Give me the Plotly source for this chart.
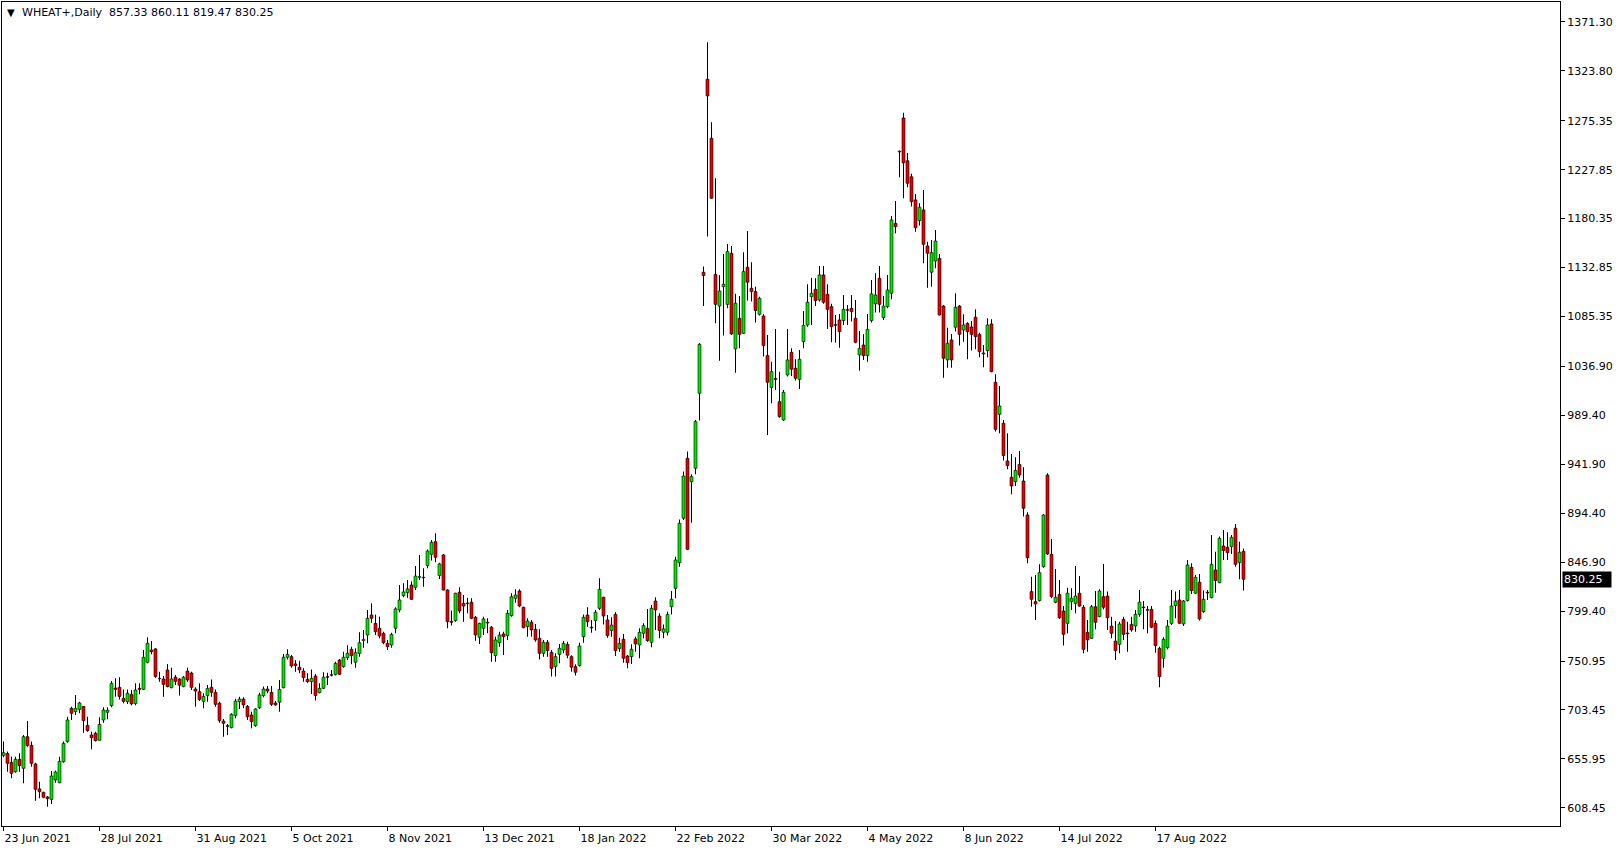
import plotly.graph_objects as go

symbol = "WHEAT+,Daily"
last_ohlc = ["857.33", "860.11", "819.47", "830.25"]

opens = [659.4,661.3,652.6,643.5,655.5,646.8,677.5,669.1,651.0,626.8,623.5,619.0,616.6,635.5,632.8,653.2,672.7,705.0,701.8,704.0,
706.9,688.5,679.1,680.8,674.0,693.7,701.2,707.6,724.7,725.4,714.7,711.5,718.6,709.6,724.4,723.4,749.7,761.6,762.7,734.1,
733.5,742.2,725.0,735.2,733.5,726.1,741.2,739.3,723.8,721.2,711.8,717.4,725.4,720.6,709.9,692.7,688.2,686.2,697.9,711.5,
714.1,706.9,698.5,688.2,705.6,717.4,723.8,720.6,710.2,710.9,725.0,754.6,755.2,748.1,744.9,741.2,733.1,730.9,736.4,720.2,
724.4,735.8,737.1,738.0,751.9,745.5,754.2,762.3,749.7,758.4,770.7,776.2,795.6,787.5,782.7,777.8,768.1,766.5,782.7,800.5,
814.4,817.3,824.7,822.5,832.2,832.2,843.6,854.5,866.8,833.8,853.9,819.9,789.4,790.2,817.7,806.9,807.2,808.0,793.4,774.0,
782.7,788.5,783.7,756.2,768.7,777.2,775.6,795.0,811.8,818.9,803.1,784.3,788.5,781.7,773.0,758.4,769.1,759.4,745.5,757.4,
761.6,767.1,755.2,745.5,746.5,774.6,795.6,783.7,790.2,802.1,812.8,790.8,780.5,796.2,763.0,772.0,755.8,755.2,772.4,766.5,
777.8,782.7,769.1,809.2,794.6,778.8,778.8,803.7,821.5,846.4,889.5,947.7,925.0,938.0,1010.8,1128.3,1315.7,1258.3,1126.2,1095.5,
1114.3,1097.1,1146.7,1053.9,1083.6,1069.0,1133.1,1112.7,1109.5,1087.4,1085.8,1047.4,1016.3,1025.1,1002.7,984.9,1028.6,1050.6,1035.1,1024.3,
1060.9,1077.1,1104.6,1111.7,1101.4,1125.7,1106.9,1094.9,1077.4,1082.0,1081.4,1092.0,1093.3,1083.6,1048.0,1057.7,1047.4,1081.4,1097.6,1122.4,
1084.2,1094.9,1107.9,1175.8,1245.0,1278.0,1236.5,1221.0,1198.5,1178.4,1188.8,1153.8,1128.3,1139.2,1141.8,1095.5,1043.2,1062.6,1074.9,1095.5,
1072.3,1078.7,1075.2,1084.6,1068.0,1049.9,1052.3,1078.1,1021.5,990.4,981.7,945.1,929.3,925.0,941.8,925.7,892.7,818.3,808.6,809.6,
842.5,931.5,854.5,808.0,815.6,799.5,787.5,808.6,806.9,816.7,803.1,778.8,773.0,803.7,794.0,813.4,814.0,784.9,770.3,767.1,
791.4,778.1,786.5,784.9,796.2,803.4,800.8,801.1,787.5,763.3,753.6,763.9,787.5,804.7,810.2,786.9,809.6,841.9,816.7,827.4,
798.9,817.7,812.4,839.3,827.0,862.6,861.3,862.0,879.8,846.4,857.33]

highs = [672.7,663.0,658.1,658.1,661.3,679.1,692.7,672.7,652.2,633.8,624.1,619.9,644.2,644.6,658.1,672.7,696.9,706.6,718.0,711.5,
707.2,696.9,682.4,682.4,696.3,706.0,706.0,731.5,734.1,735.2,723.4,723.4,722.8,729.3,729.3,761.6,774.0,770.3,763.3,740.6,
736.4,748.1,744.5,737.4,734.1,736.4,744.5,740.6,725.4,729.3,719.6,727.7,733.1,723.4,711.5,694.7,689.9,700.2,714.4,716.3,
715.7,708.3,701.8,705.0,720.2,726.1,726.7,726.7,712.1,732.5,757.8,762.3,756.8,751.9,751.3,743.9,739.0,742.8,738.4,729.3,
740.0,739.6,742.2,750.3,753.0,760.0,766.2,764.9,763.3,778.8,781.1,800.5,806.9,796.2,794.0,779.4,771.4,778.4,803.1,824.7,
826.4,829.6,828.0,843.1,853.9,840.9,859.3,868.4,874.9,846.4,854.9,820.5,799.9,817.3,822.5,815.0,812.4,811.8,794.6,788.1,
794.0,792.4,784.9,774.6,779.4,779.4,800.5,816.7,820.5,820.5,803.7,792.4,790.8,786.9,781.7,771.4,771.4,761.6,758.4,767.5,
770.3,769.7,756.5,747.7,768.7,796.2,803.1,790.8,800.5,831.2,813.4,795.6,793.4,798.2,773.6,777.2,756.8,767.1,774.6,782.7,
787.5,801.5,805.3,812.8,797.2,786.5,798.9,818.9,852.2,888.4,934.8,954.2,932.1,984.9,1059.5,1133.8,1351.6,1273.9,1219.5,1125.7,
1146.1,1155.8,1153.8,1107.3,1105.2,1147.7,1168.3,1138.0,1114.3,1104.6,1087.4,1067.4,1041.5,1073.3,1031.8,1014.0,1073.3,1054.5,1043.8,1052.9,
1090.7,1116.6,1123.0,1122.4,1134.4,1134.4,1116.6,1097.6,1086.8,1087.8,1106.2,1096.5,1106.2,1101.4,1071.3,1068.0,1087.8,1120.8,1127.3,1134.4,
1105.2,1125.7,1182.9,1197.5,1246.5,1283.0,1244.0,1224.0,1204.3,1195.2,1208.2,1158.0,1159.6,1169.3,1146.1,1096.5,1074.5,1068.4,1107.9,1096.5,
1087.4,1079.8,1081.0,1092.3,1069.6,1057.7,1083.6,1082.6,1029.2,1017.9,984.9,972.0,951.9,948.7,954.8,939.0,895.3,832.8,834.4,844.8,
893.3,933.1,869.4,840.3,829.6,804.3,822.1,821.5,843.1,833.4,805.3,790.8,805.3,818.9,820.5,845.2,818.3,794.0,789.8,789.1,
794.0,789.1,794.0,800.5,819.9,809.2,804.3,804.3,790.2,764.9,774.0,790.8,819.9,818.3,819.9,810.2,849.0,845.8,834.4,835.5,
819.3,819.9,873.3,857.1,871.7,878.1,875.9,873.3,884.0,866.8,860.11]

lows = [657.5,643.5,637.1,642.5,643.5,632.2,667.8,648.4,615.4,617.7,617.7,609.6,612.2,632.8,632.2,652.2,671.7,693.7,698.5,700.2,
681.4,682.4,665.2,672.7,673.7,691.1,694.3,706.0,716.3,713.7,709.9,709.3,708.0,708.0,718.6,722.8,748.7,757.4,734.8,730.9,
716.3,725.4,724.4,727.7,717.4,725.4,730.9,722.8,706.6,712.1,705.0,711.5,716.3,706.6,691.1,677.5,679.1,685.6,695.3,704.4,
705.0,693.7,685.6,687.2,704.4,715.7,719.6,707.2,707.6,701.8,724.4,752.5,744.5,740.6,739.0,730.9,729.9,719.0,712.5,719.6,
723.8,727.7,735.8,736.8,737.4,744.5,751.9,747.7,744.5,755.2,763.9,768.1,788.1,776.2,773.0,767.1,761.6,763.9,777.8,798.2,
812.8,812.4,810.2,819.9,829.6,823.1,840.9,848.4,846.8,830.6,819.3,782.7,785.3,789.1,797.2,789.1,797.2,791.4,770.7,767.5,
776.2,777.8,750.3,750.3,764.9,756.8,771.4,794.0,807.6,803.1,782.7,774.6,774.6,769.7,752.5,755.2,755.2,735.8,735.8,748.7,
758.4,753.6,740.6,736.8,745.5,768.7,784.3,778.4,780.5,800.5,786.5,773.6,774.6,755.8,760.0,749.3,743.8,748.1,760.0,753.6,
773.0,769.7,764.3,781.1,773.0,773.0,775.6,796.2,811.8,842.5,887.8,858.7,885.2,932.1,984.3,1095.5,1162.9,1199.6,1078.7,1042.5,
1066.8,1093.3,1067.4,1030.8,1054.5,1068.4,1100.8,1099.8,1079.4,1086.2,1046.4,970.3,1001.1,1014.0,987.1,983.9,1027.0,1027.6,1023.1,1015.0,
1054.5,1075.5,1077.1,1095.5,1099.8,1097.6,1073.3,1060.3,1059.9,1055.1,1077.1,1077.1,1080.4,1059.3,1032.8,1043.2,1041.5,1079.4,1089.1,1089.1,
1082.0,1093.3,1102.0,1166.1,1220.5,1200.1,1210.8,1192.0,1167.7,1173.6,1137.0,1113.3,1114.3,1132.1,1086.2,1026.0,1035.7,1035.7,1070.7,1057.1,
1060.9,1043.8,1052.3,1053.5,1045.8,1036.1,1045.8,1031.2,973.6,972.0,945.5,937.0,912.7,920.8,928.9,891.1,845.8,803.7,790.8,808.6,
841.5,853.9,811.8,806.9,791.8,765.9,777.8,800.5,797.2,803.7,758.4,760.0,772.4,781.7,793.4,801.1,781.1,773.0,751.9,758.4,
771.4,760.0,779.4,779.4,794.0,781.7,777.8,782.7,759.0,725.4,744.5,762.3,785.9,792.4,786.9,784.9,808.6,816.0,816.0,790.2,
797.8,810.2,811.8,817.3,826.4,849.0,849.0,854.9,842.5,830.2,819.47]

closes = [661.9,651.6,641.9,655.5,649.4,677.5,668.8,651.6,626.4,624.1,618.7,617.3,639.3,643.2,653.6,671.0,693.7,700.2,705.0,710.2,
693.1,683.4,676.5,673.7,689.4,703.4,703.1,729.3,723.4,716.6,711.8,719.6,709.3,722.8,723.4,754.6,768.1,760.0,735.8,733.8,
728.3,726.1,733.5,731.2,727.4,735.2,732.5,725.4,721.8,713.7,716.6,724.4,720.6,708.9,693.1,690.5,687.5,699.2,712.1,714.1,
708.3,696.9,692.1,704.4,718.0,723.8,721.8,708.9,708.3,723.4,754.6,757.4,746.1,746.5,742.2,734.8,730.9,734.1,717.4,724.4,
735.2,735.2,737.7,748.7,738.0,754.6,758.4,756.2,759.0,768.7,772.0,792.4,792.4,779.4,775.2,768.7,764.9,776.8,801.5,810.2,
818.0,820.9,810.8,833.4,832.8,831.8,857.7,866.2,851.6,845.2,819.9,789.1,788.5,816.7,799.5,804.3,806.6,792.4,776.2,787.5,
791.8,787.8,759.0,771.4,776.2,774.6,797.2,813.4,815.0,804.3,783.3,789.8,781.1,771.4,758.4,769.1,761.0,743.8,755.2,763.3,
768.1,756.5,744.9,740.0,765.5,793.4,789.1,783.0,798.2,820.5,794.6,775.6,785.9,761.0,768.1,753.6,749.3,762.3,767.5,778.8,
785.3,770.7,802.1,800.5,780.5,782.1,796.2,810.8,849.0,884.6,930.5,859.3,929.9,983.3,1058.3,1125.1,1299.4,1200.1,1097.1,1110.1,
1116.6,1148.3,1068.4,1098.2,1068.0,1128.9,1118.6,1109.5,1091.1,1103.0,1057.1,1021.5,1031.8,1024.3,988.1,1011.8,1043.2,1034.1,1025.4,1043.8,
1076.8,1099.2,1107.9,1100.8,1125.7,1099.2,1092.3,1075.5,1076.8,1070.7,1092.3,1091.4,1090.1,1060.3,1054.5,1047.4,1072.9,1107.3,1106.2,1097.1,
1095.5,1111.1,1179.1,1172.6,1245.8,1234.5,1214.6,1196.8,1171.5,1191.4,1155.4,1146.7,1147.3,1158.6,1086.8,1044.8,1059.3,1043.2,1094.3,1068.0,
1077.1,1070.7,1068.0,1065.8,1051.2,1049.0,1077.1,1031.8,975.8,998.5,950.3,940.6,920.8,935.8,931.5,899.2,851.2,810.8,806.3,836.7,
892.7,854.9,813.4,812.8,793.0,776.8,816.7,811.8,814.0,804.3,762.3,771.4,803.7,788.5,818.9,803.1,793.0,777.8,761.0,786.9,
776.8,777.5,781.1,796.2,808.0,802.7,800.2,783.7,765.9,735.8,772.0,784.9,804.3,809.2,787.5,809.2,844.2,819.3,832.2,791.8,
810.8,817.0,844.8,829.0,870.0,858.1,856.1,871.0,844.8,856.5,830.25]

date_labels = ["23 Jun 2021", "28 Jul 2021", "31 Aug 2021", "5 Oct 2021", "8 Nov 2021", "13 Dec 2021",
               "18 Jan 2022", "22 Feb 2022", "30 Mar 2022", "4 May 2022", "8 Jun 2022", "14 Jul 2022", "17 Aug 2022"]
date_bars = [0, 24, 48, 72, 96, 120, 144, 168, 192, 216, 240, 264, 288]

price_ticks = [1371.30, 1323.80, 1275.35, 1227.85, 1180.35, 1132.85, 1085.35, 1036.90, 989.40,
               941.90, 894.40, 846.90, 799.40, 750.95, 703.45, 655.95, 608.45]
price_tick_text = ["%.2f" % v for v in price_ticks]

bull_color = "#00e600"
bear_color = "#e60000"

bars = list(range(len(closes)))
wick_len = [h - l for h, l in zip(highs, lows)]
body_base = [min(o, c) for o, c in zip(opens, closes)]
body_len = [abs(c - o) for o, c in zip(opens, closes)]
body_col = [bull_color if c >= o else bear_color for o, c in zip(opens, closes)]

fig = go.Figure()
# wicks (high-low range), drawn first
fig.add_trace(go.Bar(
    x=bars, y=wick_len, base=lows, width=0.25,
    marker=dict(color="black", line=dict(width=0)),
    showlegend=False, hoverinfo="skip",
))
# candle bodies (open-close range)
fig.add_trace(go.Bar(
    x=bars, y=body_len, base=body_base, width=0.75,
    marker=dict(color=body_col, line=dict(color="black", width=0.6)),
    showlegend=False, hoverinfo="skip",
))

font_family = "DejaVu Sans, Verdana, sans-serif"

fig.update_layout(
    width=1624, height=850,
    margin=dict(l=2, r=64, t=2, b=24),
    paper_bgcolor="white", plot_bgcolor="white",
    barmode="overlay",
    font=dict(family=font_family, size=11, color="black"),
    xaxis=dict(
        range=[-0.375, 389.125],
        tickmode="array", tickvals=date_bars, ticktext=date_labels,
        ticks="outside", ticklen=4, tickcolor="black", tickwidth=1,
        ticklabelposition="outside right", ticklabelstandoff=2,
        tickfont=dict(family=font_family, size=11, color="black"),
        showgrid=False, zeroline=False,
        showline=True, linecolor="black", linewidth=1, mirror=True,
    ),
    yaxis=dict(
        range=[590.8, 1390.6], side="right",
        tickmode="array", tickvals=price_ticks, ticktext=price_tick_text,
        ticks="outside", ticklen=4, tickcolor="black", tickwidth=1,
        tickfont=dict(family=font_family, size=11, color="black"),
        showgrid=False, zeroline=False,
        showline=True, linecolor="black", linewidth=1, mirror=True,
    ),
)

fig.add_annotation(xref="paper", yref="paper", x=0, y=1, xshift=3, yshift=-3,
                   xanchor="left", yanchor="top", showarrow=False,
                   text="\u25BC", font=dict(family=font_family, size=10, color="black"))
fig.add_annotation(xref="paper", yref="paper", x=0, y=1, xshift=18, yshift=-2,
                   xanchor="left", yanchor="top", showarrow=False,
                   text=symbol + "  " + " ".join(last_ohlc),
                   font=dict(family=font_family, size=11, color="#000020"))
fig.add_annotation(xref="paper", yref="y", x=1, y=closes[-1], xshift=2,
                   xanchor="left", yanchor="middle", showarrow=False,
                   text=last_ohlc[3], bgcolor="black", borderpad=1,
                   width=46, align="left",
                   font=dict(family=font_family, size=11, color="white"))

fig.write_html("out.html",
               config={"displayModeBar": False},
               post_script="document.body.style.margin='0';document.body.style.overflow='hidden';")
